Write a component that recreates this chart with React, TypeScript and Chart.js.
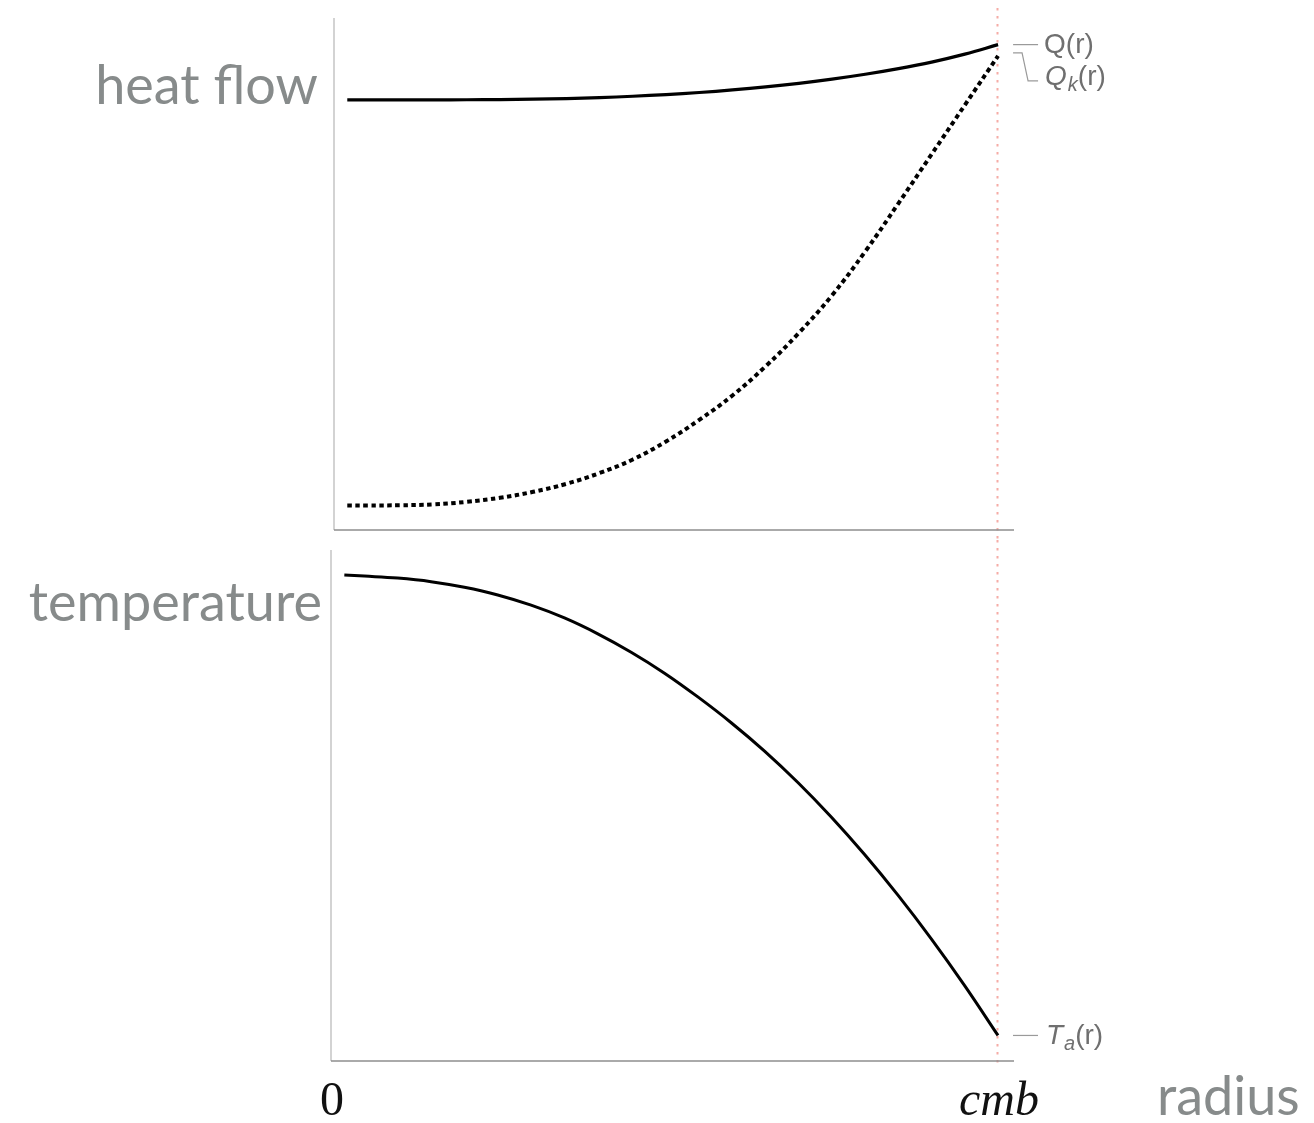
import { useEffect, useRef } from "react";
import { Chart, registerables } from "chart.js";

Chart.register(...registerables);

// Radius, normalised so the core-mantle boundary (cmb) sits at 1.
const RADIUS = [0.02, 0.05, 0.1, 0.15, 0.2, 0.25, 0.3, 0.35, 0.4, 0.45, 0.5, 0.55, 0.6, 0.65, 0.7, 0.75, 0.8, 0.85, 0.9, 0.95, 1.0];
// Total heat flow Q(r), arbitrary units.
const TOTAL_HEAT = [84.0, 84.0, 84.0, 84.01, 84.03, 84.07, 84.14, 84.26, 84.45, 84.72, 85.05, 85.45, 85.95, 86.54, 87.24, 88.06, 89.01, 90.11, 91.39, 92.94, 94.8];
// Conductive heat flow along the adiabat, Q_k(r).
const CONDUCTIVE_HEAT = [4.8, 4.8, 4.83, 5.0, 5.5, 6.29, 7.46, 9.02, 11.13, 13.77, 17.29, 21.5, 26.27, 31.97, 38.48, 45.84, 54.4, 63.8, 73.4, 83.0, 92.6];
// Adiabatic temperature T_a(r).
const ADIABAT = [95.1, 94.9, 94.5, 93.8, 92.7, 91.2, 89.2, 86.7, 83.6, 80.0, 75.9, 71.25, 66.2, 60.65, 54.5, 47.75, 40.4, 32.45, 23.9, 14.75, 5.0];
// Radius tick labels.
const X_TICKS = [
  { value: 0, label: "0" },
  { value: 1, label: "cmb" },
];
const CMB = 1;
const X_MAX = 1.024;

const LABEL_FONT = '54px Lato, "Open Sans", sans-serif';
const LABEL_COLOR = "#878b8b";
const NOTE_COLOR = "#6f6f6f";
const LEADER_COLOR = "#9a9a9a";
const NOTE_SIZE = 28;
const NOTE_FAMILY = '"Liberation Sans", Arial, sans-serif';

type Part = { text: string; italic?: boolean; sub?: boolean };

function drawParts(ctx: CanvasRenderingContext2D, parts: Part[], x: number, baseline: number) {
  let cx = x;
  for (const p of parts) {
    const size = p.sub ? 20 : NOTE_SIZE;
    ctx.font = `${p.italic ? "italic " : ""}${size}px ${NOTE_FAMILY}`;
    ctx.fillText(p.text, cx, baseline + (p.sub ? 6 : 0));
    cx += ctx.measureText(p.text).width + (p.italic && !p.sub ? 1 : 0);
  }
}

function line(ctx: CanvasRenderingContext2D, pts: [number, number][], color: string, width: number, dash: number[] = []) {
  ctx.save();
  ctx.strokeStyle = color;
  ctx.lineWidth = width;
  ctx.setLineDash(dash);
  ctx.beginPath();
  pts.forEach(([x, y], i) => (i === 0 ? ctx.moveTo(x, y) : ctx.lineTo(x, y)));
  ctx.stroke();
  ctx.restore();
}

// Axis lines and the dotted cmb marker, drawn beneath the curves.
function framePlugin(markerFrom: number, markerTo: number) {
  return {
    id: "frame",
    beforeDatasetsDraw(chart: any) {
      const { ctx, chartArea: a, scales } = chart;
      const xc = Math.round(scales.x.getPixelForValue(CMB)) - 0.5;
      line(ctx, [[xc, markerFrom], [xc, markerTo]], "#f5aca6", 2, [2.5, 5.5]);
      line(ctx, [[a.left, a.top], [a.left, a.bottom]], "#c4c4c4", 1.5);
      line(ctx, [[a.left, a.bottom], [a.right, a.bottom]], "#8e8e8e", 1.5);
    },
  };
}

function makeLineDataset(label: string, values: number[], dash: number[], width: number) {
  return {
    label,
    data: RADIUS.map((r, i) => ({ x: r, y: values[i] })),
    borderColor: "#000",
    borderWidth: width,
    borderDash: dash,
    borderCapStyle: "butt" as const,
    pointRadius: 0,
    tension: 0.4,
    fill: false,
    clip: false as const,
  };
}

function baseOptions(padding: { left: number; right: number; top: number; bottom: number }) {
  return {
    responsive: false,
    animation: false as const,
    layout: { padding },
    plugins: { legend: { display: false }, tooltip: { enabled: false } },
    scales: {
      x: { type: "linear" as const, min: 0, max: X_MAX, display: false },
      y: { type: "linear" as const, min: 0, max: 100, display: false },
    },
  };
}

function HeatFlowPanel() {
  const ref = useRef<HTMLCanvasElement>(null);
  useEffect(() => {
    const notes = {
      id: "heatNotes",
      afterDatasetsDraw(chart: any) {
        const { ctx, chartArea: a, scales } = chart;
        const xc = scales.x.getPixelForValue(CMB);
        const yQ = scales.y.getPixelForValue(TOTAL_HEAT[TOTAL_HEAT.length - 1]);
        const yK = scales.y.getPixelForValue(CONDUCTIVE_HEAT[CONDUCTIVE_HEAT.length - 1]);
        ctx.save();
        ctx.font = LABEL_FONT;
        ctx.fillStyle = LABEL_COLOR;
        ctx.textAlign = "right";
        ctx.textBaseline = "alphabetic";
        ctx.fillText("heat flow", a.left - 16, 104);

        line(ctx, [[xc + 15, yQ], [xc + 40, yQ]], LEADER_COLOR, 1.2);
        line(ctx, [[xc + 15, yK - 3], [xc + 24, yK - 3], [xc + 30, yK + 25], [xc + 40, yK + 25]], LEADER_COLOR, 1.2);
        ctx.fillStyle = NOTE_COLOR;
        ctx.textAlign = "left";
        drawParts(ctx, [{ text: "Q(r)" }], xc + 46, yQ + 8);
        drawParts(ctx, [{ text: "Q", italic: true }, { text: "k", italic: true, sub: true }, { text: "(r)" }], xc + 47, yK + 29);
        ctx.restore();
      },
    };
    const chart = new Chart(ref.current!, {
      type: "line",
      data: {
        datasets: [
          makeLineDataset("Q(r)", TOTAL_HEAT, [], 3.2),
          makeLineDataset("Qk(r)", CONDUCTIVE_HEAT, [4.5, 3.5], 4),
        ],
      },
      options: baseOptions({ left: 334, right: 300, top: 18, bottom: 10 }) as any,
      plugins: [framePlugin(8, 540), notes],
    });
    return () => chart.destroy();
  }, []);
  return <canvas ref={ref} width={1314} height={540} style={{ position: "absolute", left: 0, top: 0, display: "block" }} />;
}

function TemperaturePanel() {
  const ref = useRef<HTMLCanvasElement>(null);
  useEffect(() => {
    const notes = {
      id: "tempNotes",
      afterDatasetsDraw(chart: any) {
        const { ctx, chartArea: a, scales } = chart;
        const xc = scales.x.getPixelForValue(CMB);
        const yT = scales.y.getPixelForValue(ADIABAT[ADIABAT.length - 1]);
        ctx.save();
        ctx.font = LABEL_FONT;
        ctx.fillStyle = LABEL_COLOR;
        ctx.textAlign = "right";
        ctx.textBaseline = "alphabetic";
        ctx.fillText("temperature", a.left - 9, 81);
        ctx.textAlign = "left";
        ctx.fillText("radius", a.right + 143, a.bottom + 54);

        line(ctx, [[xc + 15, yT], [xc + 40, yT]], LEADER_COLOR, 1.2);
        ctx.fillStyle = NOTE_COLOR;
        drawParts(ctx, [{ text: "T", italic: true }, { text: "a", italic: true, sub: true }, { text: "(r)" }], xc + 48, yT + 9);

        ctx.fillStyle = "#111";
        ctx.textAlign = "center";
        for (const t of X_TICKS) {
          const px = scales.x.getPixelForValue(t.value);
          ctx.font = t.value === 0
            ? '48px "Liberation Serif", "Times New Roman", serif'
            : 'italic 48px "Liberation Serif", "Times New Roman", serif';
          ctx.fillText(t.label, px + 1, a.bottom + 54);
        }
        ctx.restore();
      },
    };
    const chart = new Chart(ref.current!, {
      type: "line",
      data: { datasets: [makeLineDataset("Ta(r)", ADIABAT, [], 3)] },
      options: baseOptions({ left: 331, right: 300, top: 10, bottom: 62 }) as any,
      plugins: [framePlugin(0, 527), notes],
    });
    return () => chart.destroy();
  }, []);
  return <canvas ref={ref} width={1314} height={583} style={{ position: "absolute", left: 0, top: 540, display: "block" }} />;
}

export default function App() {
  return (
    <div style={{ position: "absolute", left: 0, top: 0, width: 1314, height: 1123, background: "#fff", overflow: "hidden" }}>
      <HeatFlowPanel />
      <TemperaturePanel />
    </div>
  );
}
